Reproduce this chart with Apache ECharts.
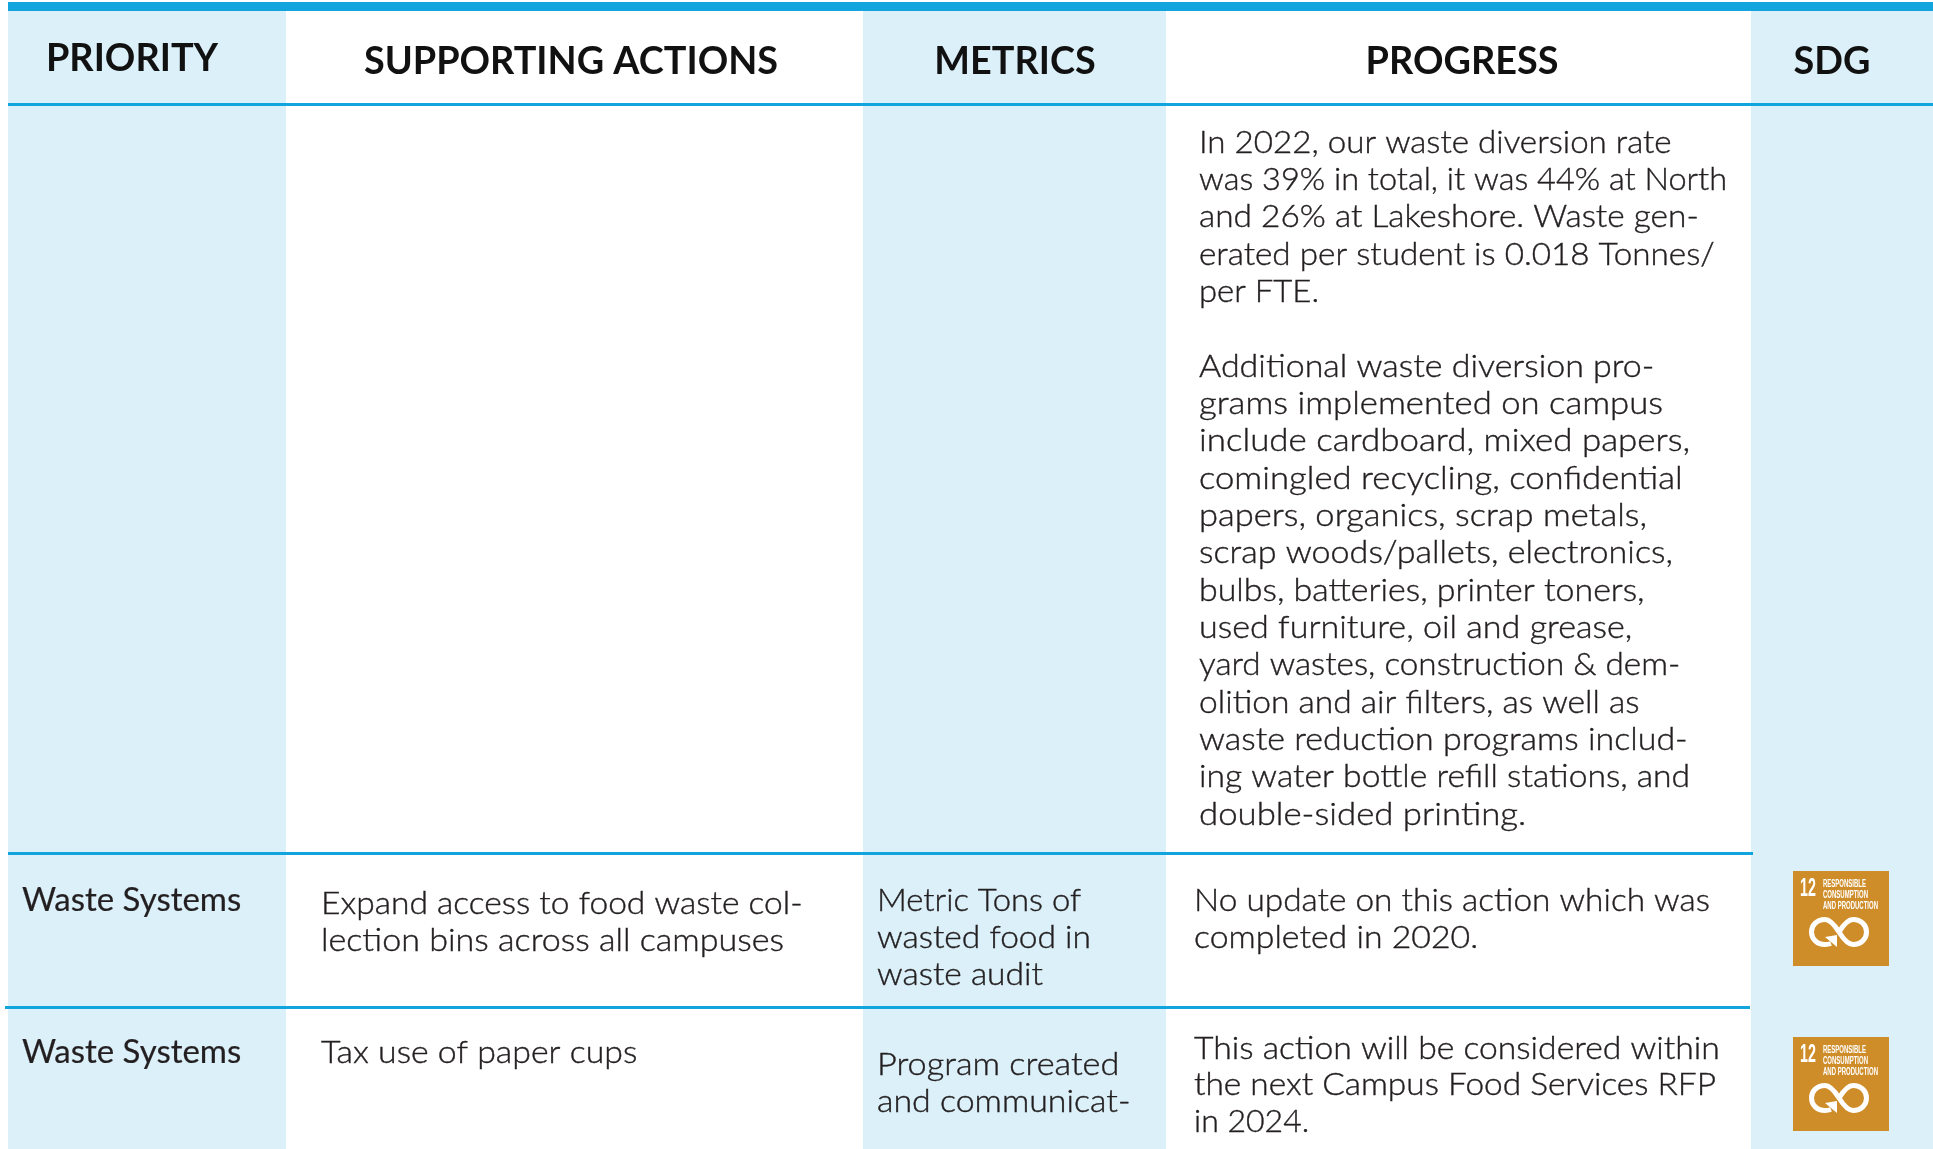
<!DOCTYPE html>
<html><head><meta charset="utf-8">
<style>html,body{margin:0;padding:0;background:#fff}#c{width:1933px;height:1149px}</style>
<script src="https://cdn.jsdelivr.net/npm/echarts@6/dist/echarts.min.js"></script>
</head><body><div id="c"></div>
<script>
const headers = ['PRIORITY','SUPPORTING ACTIONS','METRICS','PROGRESS','SDG'];
const progressIntro = ['In 2022, our waste diversion rate','was 39% in total, it was 44% at North','and 26% at Lakeshore. Waste gen-','erated per student is 0.018 Tonnes/','per FTE.','',
 'Additional waste diversion pro-','grams implemented on campus','include cardboard, mixed papers,','comingled recycling, confidential','papers, organics, scrap metals,','scrap woods/pallets, electronics,','bulbs, batteries, printer toners,','used furniture, oil and grease,','yard wastes, construction & dem-','olition and air filters, as well as','waste reduction programs includ-','ing water bottle refill stations, and','double-sided printing.'];
const priorities = ['Waste Systems','Waste Systems'];
const actions = [['Expand access to food waste col-','lection bins across all campuses'],['Tax use of paper cups']];
const metrics = [['Metric Tons of','wasted food in','waste audit'],['Program created','and communicat-']];
const progress = [['No update on this action which was','completed in 2020.'],['This action will be considered within','the next Campus Food Services RFP','in 2024.']];
const sdgNumber = '12';
const sdgLabel = ['RESPONSIBLE','CONSUMPTION','AND PRODUCTION'];

// layout only: right edges of each text line, in page pixels
const S=1933/1568;
const introEnds=[1356,1401,1378,1391,1070,0,1342,1349,1371,1365,1336,1357,1334,1324,1363,1330,1369,1371,1238].map(v=>v*S);
const actionEnds=[[651,636],[517]].map(a=>a.map(v=>v*S));
const metricEnds=[[877,885,846],[908,917]].map(a=>a.map(v=>v*S));
const progressEnds=[[1387,1199],[1395,1392,1062]].map(a=>a.map(v=>v*S));

const FONT='Lato', INK='#231f20', BLUE='#12a4dd', TINT='#dbf0f9', GOLD='#cf8d2a';
const edges=[8,286,863,1166,1751,1933];
const g=[];
const ctx=document.createElement('canvas').getContext('2d');
const rect=(x,y,w,h,fill)=>g.push({type:'rect',shape:{x,y,width:w,height:h},style:{fill}});
const txt=(x,y,s,o={})=>{
  const font=`${o.w||400} ${o.size||32}px ${o.font||FONT}`;
  let sx=o.sx||1;
  if(o.end){ctx.font=font;sx=(o.end-x)/ctx.measureText(s).width;}
  const fill=o.fill||INK;
  const style={text:s,fill,font,align:o.align||'left',verticalAlign:'middle'};
  if(o.bolden){style.stroke=fill;style.lineWidth=o.bolden;}
  g.push({type:'text',x,y,scaleX:sx,style});
};
const block=(x,y,lines,ends,o,lh=37.33)=>lines.forEach((s,i)=>{if(s)txt(x,y+i*lh,s,Object.assign({},o,{end:ends[i]}))});

rect(edges[0],11,edges[1]-edges[0],1138,TINT);
rect(edges[2],11,edges[3]-edges[2],1138,TINT);
rect(edges[4],11,edges[5]-edges[4],1138,TINT);
rect(8,2,1925,9,BLUE);
rect(8,103,1925,3,BLUE);
rect(8,852,1745,3,BLUE);
rect(5,1006,1745,3,BLUE);

const hd={w:700,size:37.6,fill:'#111',align:'center',sx:1.006};
[[132,59],[571,62],[1015,62],[1462,62],[1832,62]].forEach((p,i)=>txt(p[0],p[1],headers[i],hd));

const body={size:32,w:300,bolden:.4}, pr={size:33,w:400,bolden:.2};
block(1199,142.4,progressIntro,introEnds,body);
txt(22,900,priorities[0],pr); txt(22,1052,priorities[1],pr);
block(321,903.4,actions[0],actionEnds[0],body); block(321,1052.4,actions[1],actionEnds[1],body);
block(877,900.4,metrics[0],metricEnds[0],body); block(877,1064.4,metrics[1],metricEnds[1],body);
block(1194,900.4,progress[0],progressEnds[0],body); block(1194,1048.4,progress[1],progressEnds[1],body,36.6);

const loop=[[30,15,35,7,39,2.5,44,2.5],[44,2.5,52,2.5,57.5,8,57.5,15],[57.5,15,57.5,22,52,27.5,44,27.5],[44,27.5,39,27.5,35,23,30,15],
 [30,15,25,7,21,2.5,16,2.5],[16,2.5,8,2.5,2.5,8,2.5,15],[2.5,15,2.5,22,8,27.5,16,27.5],[16,27.5,18,27.5,20,27.2,22,26.5]];
[871,1037].forEach(y=>{
  rect(1793,y,96,y===871?95:94,GOLD);
  const f='Liberation Sans';
  txt(1800,y+18,sdgNumber,{size:25,w:700,fill:'#fff',font:f,sx:.57});
  sdgLabel.forEach((s,i)=>txt(1823,y+13+i*11,s,{size:10,w:700,fill:'#fff',font:f,sx:.6}));
  loop.forEach(c=>g.push({type:'bezierCurve',x:1809,y:y+46,shape:{x1:c[0],y1:c[1],cpx1:c[2],cpy1:c[3],cpx2:c[4],cpy2:c[5],x2:c[6],y2:c[7]},style:{fill:'none',stroke:'#fff',lineWidth:5}}));
  g.push({type:'polygon',x:1809,y:y+46,shape:{points:[[16,20],[28,18],[28,30]]},style:{fill:'#fff'}});
});

const chart=echarts.init(document.getElementById('c'),null,{renderer:'canvas'});
chart.setOption({animation:false,backgroundColor:'#fff',graphic:{elements:g}});
</script></body></html>
